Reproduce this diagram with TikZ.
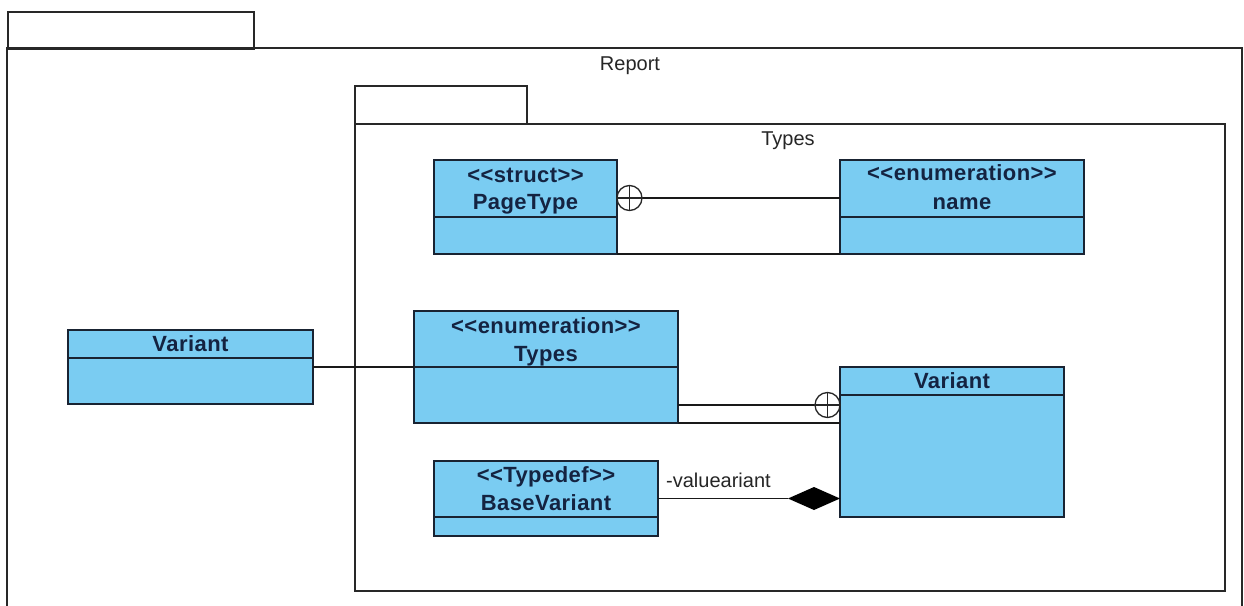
\documentclass[tikz,border=0pt]{standalone}
\usepackage{fontspec}
\newfontfamily\umlfont{Liberation Sans}
\newfontfamily\umlfontb{Liberation Sans}[LetterSpace=2]
\usetikzlibrary{calc}
\definecolor{clsfill}{RGB}{122,204,242}
\definecolor{clsdraw}{RGB}{25,35,50}
\definecolor{clstext}{RGB}{20,35,65}
\definecolor{pkgdraw}{RGB}{40,40,40}
\begin{document}
\begin{tikzpicture}[x=1pt,y=-1pt,
  pkg/.style={draw=pkgdraw, line width=1.8pt},
  cls/.style={draw=clsdraw, fill=clsfill, line width=1.6pt, inner sep=0pt, outer sep=0pt, anchor=north west},
  divider/.style={draw=clsdraw, line width=1.4pt},
  ctext/.style={inner sep=0pt, anchor=base, text=clstext, font=\umlfontb\fontsize{22}{25}\selectfont\bfseries},
  lbl/.style={inner sep=0pt, anchor=base, text=black!85, font=\umlfont\fontsize{20}{24}\selectfont},
  conn/.style={draw=black!90, line width=1.6pt},
  nest/.style={circle, draw=black!85, line width=1.3pt, fill=white, minimum size=25pt, inner sep=0pt}
]
\useasboundingbox (0,0) rectangle (1244,605);
\clip (0,0) rectangle (1244,605);
\fill[white] (0,0) rectangle (1244,605);

% Report package
\node[pkg, inner sep=0pt, anchor=north west, minimum width=246pt, minimum height=37pt] (reporttab) at (7,11) {};
\draw[pkg] (7,625) -- (7,48) -- (1242,48) -- (1242,625);
\node[lbl] (reportlbl) at (630,70) {Report};

% Types package
\node[pkg, inner sep=0pt, anchor=north west, minimum width=172pt, minimum height=38pt] (typestab) at (354,85) {};
\node[pkg, inner sep=0pt, anchor=north west, minimum width=870pt, minimum height=467pt] (typespkg) at (354,123) {};
\node[lbl] (typeslbl) at (788,145) {Types};

% PageType
\node[cls, minimum width=183pt, minimum height=94pt] (pagetype) at (434,160) {};
\draw[divider] (434,217) -- (617,217);
\node[ctext] (pagetype-st) at (525.5,182) {<<struct>>};
\node[ctext] (pagetype-nm) at (525.5,209) {PageType};

% name
\node[cls, minimum width=244pt, minimum height=94pt] (name) at (840,160) {};
\draw[divider] (840,217) -- (1084,217);
\node[ctext] (name-st) at (962,180) {<<enumeration>>};
\node[ctext] (name-nm) at (962,209) {name};

% Types enumeration
\node[cls, minimum width=264pt, minimum height=112pt] (types) at (414,311) {};
\draw[divider] (414,367) -- (678,367);
\node[ctext] (types-st) at (546,333) {<<enumeration>>};
\node[ctext] (types-nm) at (546,361) {Types};

% Variant (left)
\node[cls, minimum width=245pt, minimum height=74pt] (varL) at (68,330) {};
\draw[divider] (68,358) -- (313,358);
\node[ctext] (varL-nm) at (190.5,351) {Variant};

% Variant (right)
\node[cls, minimum width=224pt, minimum height=150pt] (varR) at (840,367) {};
\draw[divider] (840,395) -- (1064,395);
\node[ctext] (varR-nm) at (952,388) {Variant};

% BaseVariant
\node[cls, minimum width=224pt, minimum height=75pt] (bv) at (434,461) {};
\draw[divider] (434,517) -- (658,517);
\node[ctext] (bv-st) at (546,482) {<<Typedef>>};
\node[ctext] (bv-nm) at (546,510) {BaseVariant};

% PageType -- name (nesting)
\node[nest] (nc1) at (629.5,198) {};
\draw[line width=1.1pt, black!85] (nc1.north) -- (nc1.south) (nc1.west) -- (nc1.east);
\draw[conn] (nc1.east) -- (name.west |- nc1.east);
\draw[conn] (pagetype.south east) -- (name.south west);

% Variant left -- Types
\draw[conn] (varL.east) -- (types.west);

% Types -- Variant right (nesting)
\node[nest] (nc2) at (827.5,405) {};
\draw[line width=1.1pt, black!85] (nc2.north) -- (nc2.south) (nc2.west) -- (nc2.east);
\draw[conn] (types.east |- nc2.west) -- (nc2.west);
\draw[conn] (types.south east) -- (varR.west |- types.south east);

% BaseVariant -- Variant right (composition)
\coordinate (dtip) at (varR.west |- bv.east);
\coordinate (dleft) at ($(dtip)+(-52,0)$);
\fill[black] (dtip) -- ($(dtip)+(-26,-11.5)$) -- (dleft) -- ($(dtip)+(-26,11.5)$) -- cycle;
\draw[conn] (bv.east) -- (dleft);
\node[lbl, anchor=base west] (complbl) at (666,487) {-valueariant};
\end{tikzpicture}
\end{document}
